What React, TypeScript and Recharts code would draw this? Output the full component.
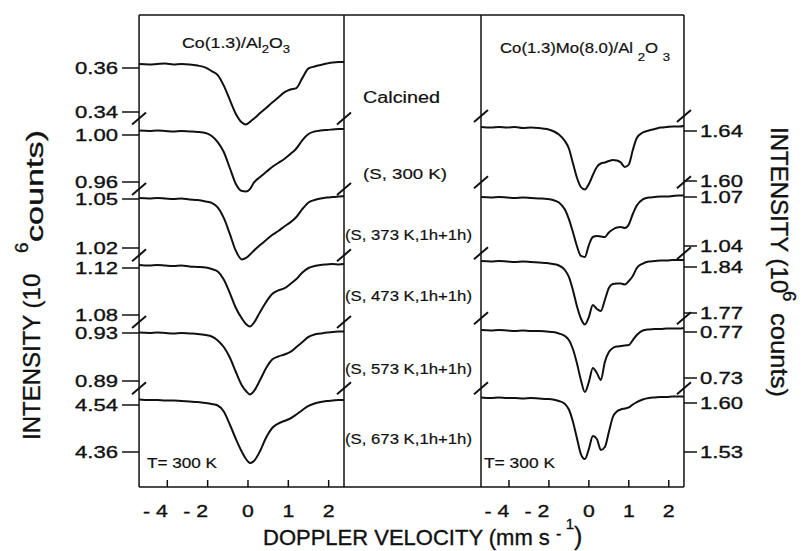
import React from "react";
import { LineChart, Line, XAxis, YAxis, ReferenceDot } from "recharts";

// Doppler velocity grid (plot units; ticks at -2..2 are labelled -4,-2,0,1,2)
const LEFT_V = [-2.7, -2.45, -2.25, -2.05, -1.85, -1.65, -1.45, -1.25, -1.05, -0.9, -0.75, -0.6, -0.45, -0.3, -0.15, -0.05, 0.05, 0.15, 0.3, 0.45, 0.6, 0.75, 0.9, 1.05, 1.2, 1.35, 1.5, 1.65, 1.8, 1.95, 2.1, 2.25, 2.38];
const RIGHT_V = [-2.7, -2.45, -2.25, -2.05, -1.85, -1.65, -1.45, -1.25, -1.05, -0.9, -0.75, -0.6, -0.5, -0.4, -0.3, -0.2, -0.1, 0, 0.1, 0.2, 0.3, 0.4, 0.5, 0.6, 0.7, 0.8, 0.9, 1.0, 1.1, 1.2, 1.35, 1.5, 1.65, 1.8, 1.95, 2.1, 2.25, 2.38];

// Co(1.3)/Al2O3 spectra (10^6 counts)
const L_CALCINED = [0.3618, 0.3616, 0.3618, 0.362, 0.3616, 0.3618, 0.3616, 0.3611, 0.3602, 0.3586, 0.3568, 0.352, 0.3455, 0.3391, 0.3352, 0.3343, 0.3355, 0.337, 0.3395, 0.3418, 0.3443, 0.3466, 0.3489, 0.3502, 0.3509, 0.3555, 0.3598, 0.3607, 0.3614, 0.362, 0.3625, 0.3627, 0.3627];
const L_S300 = [1.0038, 1.0034, 1.0038, 1.0034, 1.003, 1.0034, 1.003, 1.0026, 1.0017, 0.9991, 0.994, 0.9855, 0.9719, 0.9583, 0.9523, 0.9519, 0.954, 0.9596, 0.9643, 0.9685, 0.9728, 0.9762, 0.9796, 0.9838, 0.9885, 0.9957, 1.0009, 1.003, 1.0038, 1.0043, 1.0047, 1.0051, 1.0051];
const L_S373 = [1.0506, 1.0503, 1.0506, 1.0503, 1.05, 1.0503, 1.0497, 1.0494, 1.0485, 1.0476, 1.0448, 1.0384, 1.0286, 1.0182, 1.013, 1.0139, 1.016, 1.0185, 1.0218, 1.0249, 1.028, 1.0304, 1.0332, 1.0357, 1.039, 1.0439, 1.0479, 1.0494, 1.0503, 1.0509, 1.0512, 1.0515, 1.0518];
const L_S473 = [1.1226, 1.1221, 1.1226, 1.1221, 1.1217, 1.1221, 1.1213, 1.1209, 1.1204, 1.1191, 1.117, 1.1102, 1.0987, 1.086, 1.077, 1.0723, 1.0702, 1.0736, 1.0826, 1.0911, 1.0979, 1.1009, 1.1026, 1.1064, 1.1106, 1.1162, 1.12, 1.1217, 1.1226, 1.123, 1.1234, 1.123, 1.1234];
const L_S573 = [0.9304, 0.93, 0.9304, 0.93, 0.9296, 0.93, 0.9296, 0.9292, 0.9283, 0.9271, 0.9238, 0.9183, 0.9096, 0.8975, 0.8863, 0.8817, 0.8788, 0.8817, 0.8908, 0.9008, 0.9079, 0.9104, 0.9121, 0.9142, 0.9183, 0.9225, 0.9267, 0.9288, 0.9296, 0.9304, 0.9308, 0.9313, 0.9313];
const L_S673 = [4.5611, 4.5591, 4.5591, 4.5572, 4.5572, 4.5553, 4.5534, 4.5515, 4.5477, 4.5438, 4.5381, 4.5151, 4.4653, 4.4098, 4.36, 4.3332, 4.3179, 4.3255, 4.3638, 4.4155, 4.4519, 4.4691, 4.4787, 4.4883, 4.5036, 4.5209, 4.5362, 4.5457, 4.5515, 4.5553, 4.5572, 4.5591, 4.5591];

// Co(1.3)Mo(8.0)/Al2O3 spectra (10^6 counts)
const R_S300 = [1.6432, 1.6428, 1.6432, 1.6428, 1.6432, 1.6424, 1.6428, 1.6424, 1.6416, 1.64, 1.6372, 1.632, 1.626, 1.6144, 1.6028, 1.5952, 1.5932, 1.5976, 1.6048, 1.6112, 1.614, 1.6148, 1.616, 1.6168, 1.6164, 1.6148, 1.6112, 1.6132, 1.6248, 1.6344, 1.6388, 1.6404, 1.6416, 1.6428, 1.6432, 1.6436, 1.6436, 1.644];
const R_S373 = [1.07, 1.0697, 1.07, 1.0697, 1.0694, 1.0697, 1.0694, 1.0691, 1.0688, 1.0682, 1.0666, 1.0623, 1.0565, 1.0486, 1.04, 1.0339, 1.0333, 1.0406, 1.0455, 1.0461, 1.0458, 1.0455, 1.0483, 1.0501, 1.0513, 1.0516, 1.051, 1.0532, 1.0596, 1.0648, 1.0685, 1.0697, 1.07, 1.0703, 1.0703, 1.0706, 1.0709, 1.0709];
const R_S473 = [1.8491, 1.8484, 1.8491, 1.8484, 1.8476, 1.8484, 1.8476, 1.8468, 1.8461, 1.8446, 1.8423, 1.8354, 1.8248, 1.805, 1.7806, 1.7616, 1.7525, 1.7639, 1.7822, 1.7761, 1.773, 1.7898, 1.808, 1.8141, 1.8149, 1.8149, 1.8134, 1.8187, 1.8263, 1.8385, 1.8453, 1.8484, 1.8491, 1.8499, 1.8499, 1.8507, 1.8507, 1.8507];
const R_S573 = [0.7717, 0.7713, 0.7717, 0.7713, 0.7709, 0.7713, 0.7709, 0.7709, 0.7704, 0.77, 0.7687, 0.7665, 0.763, 0.7552, 0.743, 0.7283, 0.7178, 0.7265, 0.7387, 0.7343, 0.7283, 0.7439, 0.7526, 0.7561, 0.7574, 0.7578, 0.7583, 0.7587, 0.763, 0.7674, 0.7713, 0.7722, 0.7726, 0.7726, 0.773, 0.773, 0.773, 0.7735];
const R_S673 = [1.6079, 1.6071, 1.6079, 1.6071, 1.6071, 1.6064, 1.6071, 1.6064, 1.6057, 1.605, 1.6029, 1.5986, 1.5907, 1.5736, 1.55, 1.5271, 1.52, 1.5343, 1.5529, 1.5486, 1.5329, 1.5371, 1.5586, 1.58, 1.5879, 1.5907, 1.5921, 1.5936, 1.5979, 1.6014, 1.605, 1.6071, 1.6079, 1.6086, 1.6086, 1.6093, 1.6093, 1.6093];

// tick labels (upper, lower) of every stacked band
const LEFT_TICKS = [[0.36, 0.34], [1.0, 0.96], [1.05, 1.02], [1.12, 1.08], [0.93, 0.89], [4.54, 4.36]];
const RIGHT_TICKS = [[1.64, 1.6], [1.07, 1.04], [1.84, 1.77], [0.77, 0.73], [1.6, 1.53]];

const X_TICKS = [-2, -1, 0, 1, 2];
const X_TICK_LABELS = ["- 4", "- 2", "0", "1", "2"];
const X_DOMAIN: [number, number] = [-2.7, 2.38];

const MIDDLE_LABELS = ["Calcined", "(S, 300 K)", "(S, 373 K,1h+1h)", "(S, 473 K,1h+1h)", "(S, 573 K,1h+1h)", "(S, 673 K,1h+1h)"];

// ---- layout ----
const INK = "#111";
const FONT = "'Liberation Sans', Arial, Helvetica, sans-serif";
const PLOT_TOP = 15;
const PLOT_BOTTOM = 487;
const HAIR = 0.01; // axes need a non-zero size to render; keep them stacked on the frame
// pixel rows where each band's two ticks sit
const LEFT_ROWS = [[68, 112], [135, 182], [199, 248], [268, 315], [333, 381], [405, 452]];
const RIGHT_ROWS = [[131, 181], [197, 246], [267, 313], [332, 378], [403, 452]];
const MIDDLE_POS = [
  { x: 363, y: 103, len: 77, size: 16 },
  { x: 363, y: 179, len: 84, size: 15 },
  { x: 345, y: 240, len: 127, size: 15 },
  { x: 345, y: 301, len: 127, size: 15 },
  { x: 345, y: 374, len: 127, size: 15 },
  { x: 345, y: 444, len: 127, size: 15 },
];

const LEFT_SERIES = [L_CALCINED, L_S300, L_S373, L_S473, L_S573, L_S673];
const RIGHT_SERIES = [R_S300, R_S373, R_S473, R_S573, R_S673];

function bandDomain(t: number[], r: number[]): [number, number] {
  const k = (r[1] - r[0]) / (t[0] - t[1]);
  return [t[0] - (PLOT_BOTTOM - r[0]) / k, t[0] + (r[0] - PLOT_TOP) / k];
}

const toRows = (xs: number[], ys: number[]) => xs.map((x, i) => ({ x, y: ys[i] }));

const BreakMark = (p: any) => (
  <line x1={p.cx - 7} y1={p.cy + 6} x2={p.cx + 7} y2={p.cy - 6} stroke={INK} strokeWidth={2} />
);

// a hairline outline thickens the glyphs a little, like the printed figure
const inked = { fill: INK, stroke: INK, strokeWidth: 0.35 };

function XTick(p: any) {
  const label = X_TICK_LABELS[X_TICKS.indexOf(p.payload.value)];
  const neg = label.startsWith("-");
  return (
    <g>
      <line x1={p.x} x2={p.x} y1={p.y} y2={p.y - 7} stroke={INK} strokeWidth={1.5} />
      <text
        transform={`translate(${neg ? p.x - 12 : p.x},${p.y + 30}) scale(1.25,1)`}
        textAnchor="middle"
        fontFamily={FONT}
        fontSize={17}
        {...inked}
      >
        {label}
      </text>
    </g>
  );
}

function YTick(p: any, side: "left" | "right") {
  return (
    <text
      transform={`translate(${p.x},${p.y + 6}) scale(1.3,1)`}
      textAnchor={side === "left" ? "end" : "start"}
      fontFamily={FONT}
      fontSize={17}
      {...inked}
    >
      {Number(p.payload.value).toFixed(2)}
    </text>
  );
}

const axisStroke = { stroke: INK, strokeWidth: 1.5 };

function Panel({ side, xs, series, ticks, rows, left, width, margin }: any) {
  const innerSide = side === "left" ? "right" : "left";
  return (
    <div style={{ position: "absolute", left, top: 0 }}>
      <LineChart width={width} height={551} margin={margin}>
        <XAxis
          xAxisId={0}
          type="number"
          dataKey="x"
          domain={X_DOMAIN}
          ticks={X_TICKS}
          interval={0}
          allowDataOverflow
          height={30}
          tickLine={false}
          tickSize={0}
          tickMargin={0}
          axisLine={axisStroke}
          tick={XTick}
        />
        <XAxis
          xAxisId="top"
          orientation="top"
          type="number"
          domain={X_DOMAIN}
          ticks={X_TICKS}
          interval={0}
          allowDataOverflow
          height={HAIR}
          mirror
          tick={false}
          tickSize={6}
          tickLine={axisStroke}
          axisLine={axisStroke}
        />
        {series.map((_: number[], i: number) => (
          <YAxis
            key={"lab" + i}
            yAxisId={"b" + i}
            orientation={side}
            type="number"
            domain={bandDomain(ticks[i], rows[i])}
            ticks={ticks[i]}
            interval={0}
            allowDataOverflow
            width={HAIR}
            axisLine={i === 0 ? axisStroke : false}
            tickLine={axisStroke}
            tickSize={side === "left" ? 17 : 13}
            tickMargin={side === "left" ? 4 : 3}
            tick={(p: any) => YTick(p, side)}
          />
        ))}
        {series.map((_: number[], i: number) => (
          <YAxis
            key={"in" + i}
            yAxisId={"m" + i}
            orientation={innerSide}
            mirror
            type="number"
            domain={bandDomain(ticks[i], rows[i])}
            ticks={ticks[i]}
            interval={0}
            allowDataOverflow
            width={HAIR}
            axisLine={i === 0 ? axisStroke : false}
            tickLine={axisStroke}
            tickSize={8}
            tick={false}
          />
        ))}
        {series.map((ys: number[], i: number) => (
          <Line
            key={"s" + i}
            yAxisId={"b" + i}
            data={toRows(xs, ys)}
            dataKey="y"
            type="monotone"
            stroke={INK}
            strokeWidth={2}
            dot={false}
            isAnimationActive={false}
          />
        ))}
        {series.map((_: number[], i: number) => {
          const t = ticks[i];
          if (side === "left" && i === series.length - 1) return null;
          const brk = side === "left" ? t[1] - 0.15 * (t[0] - t[1]) : t[0] + 0.3 * (t[0] - t[1]);
          return X_DOMAIN.map((xv) => (
            <ReferenceDot
              key={"br" + i + "-" + xv}
              yAxisId={"b" + i}
              x={xv}
              y={brk}
              r={0}
              ifOverflow="visible"
              shape={BreakMark}
            />
          ));
        })}
      </LineChart>
    </div>
  );
}

export default function App() {
  const txt = { fontFamily: FONT, ...inked };
  const thin = { fontFamily: FONT, fill: INK, stroke: INK, strokeWidth: 0.2 };
  return (
    <div style={{ position: "absolute", left: 0, top: 0, width: 806, height: 551, background: "#fff" }}>
      <Panel
        side="left"
        xs={LEFT_V}
        series={LEFT_SERIES}
        ticks={LEFT_TICKS}
        rows={LEFT_ROWS}
        left={0}
        width={352}
        margin={{ top: PLOT_TOP, right: 8, bottom: 34, left: 139 }}
      />
      <Panel
        side="right"
        xs={RIGHT_V}
        series={RIGHT_SERIES}
        ticks={RIGHT_TICKS}
        rows={RIGHT_ROWS}
        left={470}
        width={336}
        margin={{ top: PLOT_TOP, right: 122, bottom: 34, left: 11 }}
      />
      <svg width={806} height={551} style={{ position: "absolute", left: 0, top: 0, pointerEvents: "none" }}>
        <line x1={344} x2={481} y1={PLOT_TOP} y2={PLOT_TOP} stroke={INK} strokeWidth={1.5} />
        <line x1={344} x2={481} y1={PLOT_BOTTOM} y2={PLOT_BOTTOM} stroke={INK} strokeWidth={1.5} />

        <text {...thin} x={182} y={48} fontSize={15} textLength={108} lengthAdjust="spacingAndGlyphs">
          Co(1.3)/Al<tspan fontSize={11} dy={5}>2</tspan>
          <tspan fontSize={15} dy={-5}>O</tspan>
          <tspan fontSize={11} dy={5}>3</tspan>
        </text>
        <text {...thin} x={500} y={53} fontSize={14} textLength={170} lengthAdjust="spacingAndGlyphs">
          Co(1.3)Mo(8.0)/Al <tspan fontSize={11} dy={8}>2</tspan>
          <tspan fontSize={14} dy={-8}>O </tspan>
          <tspan fontSize={11} dy={8}>3</tspan>
        </text>

        {MIDDLE_LABELS.map((s, i) => (
          <text
            key={s}
            {...thin}
            x={MIDDLE_POS[i].x}
            y={MIDDLE_POS[i].y}
            fontSize={MIDDLE_POS[i].size}
            textLength={MIDDLE_POS[i].len}
            lengthAdjust="spacingAndGlyphs"
          >
            {s}
          </text>
        ))}

        <text {...thin} x={147} y={468} fontSize={14} textLength={70} lengthAdjust="spacingAndGlyphs">T= 300 K</text>
        <text {...thin} x={484} y={468} fontSize={14} textLength={71} lengthAdjust="spacingAndGlyphs">T= 300 K</text>

        <text {...txt} x={263} y={545} fontSize={22}>
          DOPPLER VELOCITY (mm s <tspan fontSize={16} dy={-6}>- </tspan>
          <tspan fontSize={15} dy={-10}>1</tspan>
          <tspan fontSize={25} dy={16}>)</tspan>
        </text>

        <text {...txt} transform="translate(40,440) rotate(-90)" fontSize={24}>
          <tspan x={0} y={0}>INTENSITY (10</tspan>
          <tspan x={187} y={-12} fontSize={19}>6</tspan>
          <tspan x={198} y={3} textLength={112} lengthAdjust="spacingAndGlyphs">counts)</tspan>
        </text>
        <text {...txt} transform="translate(771,127) rotate(90)" fontSize={24}>
          <tspan x={0} y={0}>INTENSITY (10</tspan>
          <tspan x={164} y={-12} fontSize={19}>6</tspan>
          <tspan x={186} y={0} textLength={84} lengthAdjust="spacingAndGlyphs">counts)</tspan>
        </text>
      </svg>
    </div>
  );
}
